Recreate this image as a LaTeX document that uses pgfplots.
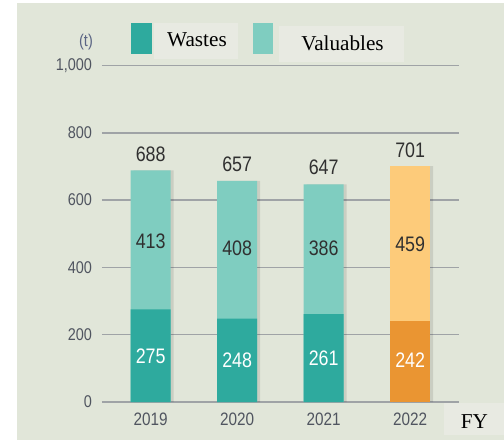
\documentclass[border=0pt]{standalone}
\usepackage{pgfplots}
\pgfplotsset{compat=1.18}
\usepackage{fontspec}
\setmainfont{Liberation Serif}
\newfontfamily\cond[FakeStretch=0.85]{Liberation Sans}
\definecolor{bg}{HTML}{E1E6D9}
\definecolor{legbg}{HTML}{E8EAE2}
\definecolor{wastes}{HTML}{2EAA9E}
\definecolor{valuables}{HTML}{7FCDC0}
\definecolor{wastesO}{HTML}{EA9532}
\definecolor{valuablesO}{HTML}{FDCB7A}
\definecolor{gridc}{HTML}{9FA3A6}
\definecolor{tickc}{HTML}{505560}
\definecolor{unitc}{HTML}{5B6584}
\definecolor{labc}{HTML}{303030}
\begin{document}
\begin{tikzpicture}
\begin{scope}[x=0.5pt,y=-0.5pt]
\fill[white] (0,0) rectangle (504,441);
\fill[bg] (17,3) rectangle (504,440);
\fill[legbg] (154,23) rectangle (238,59);
\fill[legbg] (279,26) rectangle (404,62);
\fill[legbg] (444,403) rectangle (504,435);
\fill[wastes] (131,23) rectangle (152,54);
\fill[valuables] (253,23) rectangle (273,54);
\node[font=\fontsize{10.6}{12}\selectfont, inner sep=0pt] at (197,39.5) {Wastes};
\node[font=\fontsize{10.6}{12}\selectfont, inner sep=0pt] at (342.5,43.5) {Valuables};
\node[font=\fontsize{10.6}{12}\selectfont, inner sep=0pt] at (474.5,421.5) {FY};
\node[font=\cond\fontsize{8.5}{10}\selectfont, text=unitc, inner sep=0pt] at (86,42.5) {(t)};
\end{scope}
\begin{axis}[
  at={(51pt,-201pt)}, anchor=south west,
  scale only axis, width=178.5pt, height=168.25pt,
  xmin=-0.563, xmax=3.564, ymin=0, ymax=1000,
  axis line style={draw=none}, tick style={draw=none},
  ytick={0,200,400,600,800,1000},
  ymajorgrids, grid style={gridc, line width=0.7pt},
  xtick={0,1,2,3}, xticklabels={2019,2020,2021,2022},
  /pgf/number format/assume math mode=true,
  /pgf/number format/1000 sep={,},
  yticklabel style={font=\cond\fontsize{8.5}{10}\selectfont, text=tickc, xshift=-1.5pt},
  xticklabel style={font=\cond\fontsize{9}{10}\selectfont, text=tickc, yshift=2.5pt},
  clip=false,
  ybar, bar width=20pt,
]
% shadow
\addplot[fill=black, fill opacity=0.10, draw=none, bar shift=1.5pt] coordinates {(0,688) (1,657) (2,647) (3,701)};
% totals (wastes + valuables)
\addplot[fill=valuables, draw=none, bar shift=0pt] coordinates {(0,688) (1,657) (2,647)};
\addplot[fill=valuablesO, draw=none, bar shift=0pt] coordinates {(3,701)};
% wastes
\addplot[fill=wastes, draw=none, bar shift=0pt] coordinates {(0,275) (1,248) (2,261)};
\addplot[fill=wastesO, draw=none, bar shift=0pt] coordinates {(3,242)};
% labels
\addplot[draw=none, fill=none, bar shift=0pt, nodes near coords, nodes near coords align=center, point meta=explicit symbolic,
  nodes near coords style={font=\cond\fontsize{10.5}{12}\selectfont, text=labc, inner sep=0pt, anchor=center}]
  coordinates {(0,737)[688] (1,706)[657] (2,696.5)[647] (3,749)[701]
               (0,478)[413] (1,457)[408] (2,457)[386] (3,469)[459]};
\addplot[draw=none, fill=none, bar shift=0pt, nodes near coords, nodes near coords align=center, point meta=explicit symbolic,
  nodes near coords style={font=\cond\fontsize{10.5}{12}\selectfont, text=white, inner sep=0pt, anchor=center}]
  coordinates {(0,135)[275] (1,123)[248] (2,130)[261] (3,123)[242]};
\end{axis}
\end{tikzpicture}
\end{document}
